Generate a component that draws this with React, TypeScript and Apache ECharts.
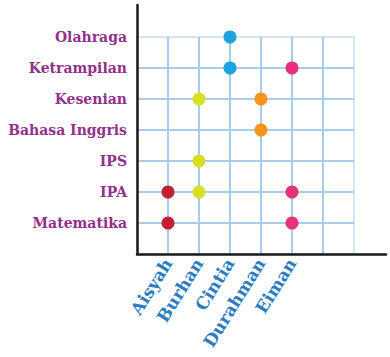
import React, { useEffect, useRef } from "react";
import * as echarts from "echarts";

const subjects = ["Matematika", "IPA", "IPS", "Bahasa Inggris", "Kesenian", "Ketrampilan", "Olahraga"];
const students = ["Aisyah", "Burhan", "Cintia", "Durahman", "Eiman"];
const studentColors = ["#c41f30", "#d8e024", "#1fa3e0", "#f7941d", "#e8317c"];
const aisyah = ["Matematika", "IPA"];
const burhan = ["IPA", "IPS", "Kesenian"];
const cintia = ["Ketrampilan", "Olahraga"];
const durahman = ["Bahasa Inggris", "Kesenian"];
const eiman = ["Matematika", "IPA", "Ketrampilan"];
const choices = [aisyah, burhan, cintia, durahman, eiman];

export default function App() {
  const ref = useRef<HTMLDivElement>(null);
  useEffect(() => {
    const chart = echarts.init(ref.current!, null, { renderer: "svg" });
    const font = "'DejaVu Serif', serif";
    chart.setOption({
      animation: false,
      grid: [
        { left: 137, top: 37, width: 217, height: 217, show: true, borderColor: "#d3e6f6", borderWidth: 2, backgroundColor: "transparent" },
        { left: 137, top: 5, right: 4, bottom: 103 },
      ],
      xAxis: [
        {
          type: "value", gridIndex: 0, min: 0, max: 7, interval: 1,
          axisLine: { show: false }, axisTick: { show: false },
          splitLine: { show: true, showMinLine: false, showMaxLine: false, lineStyle: { color: "#a8cdec", width: 2 } },
          axisLabel: {
            rotate: 58, margin: 6, color: "#2b7cc1", fontFamily: font, fontWeight: "bold", fontSize: 17,
            formatter: (v: number) => students[v - 1] ?? "",
          },
        },
        {
          type: "value", gridIndex: 1, min: 0, max: 1,
          axisLine: { show: true, lineStyle: { color: "#1a1a1a", width: 2.5 } },
          axisTick: { show: false }, axisLabel: { show: false }, splitLine: { show: false },
        },
      ],
      yAxis: [
        {
          type: "value", gridIndex: 0, min: 0, max: 7, interval: 1,
          axisLine: { show: false }, axisTick: { show: false },
          splitLine: { show: true, showMinLine: false, showMaxLine: false, lineStyle: { color: "#a8cdec", width: 2 } },
          axisLabel: {
            margin: 10, color: "#92318c", fontFamily: font, fontWeight: "bold", fontSize: 14,
            formatter: (v: number) => subjects[v - 1] ?? "",
          },
        },
        {
          type: "value", gridIndex: 1, min: 0, max: 1,
          axisLine: { show: true, lineStyle: { color: "#1a1a1a", width: 2.5 } },
          axisTick: { show: false }, axisLabel: { show: false }, splitLine: { show: false },
        },
      ],
      series: students.map((name, i) => ({
        name,
        type: "scatter",
        xAxisIndex: 0,
        yAxisIndex: 0,
        symbolSize: 13,
        itemStyle: { color: studentColors[i], opacity: 1 },
        data: choices[i].map((s) => [i + 1, subjects.indexOf(s) + 1]),
      })),
    });
    return () => chart.dispose();
  }, []);
  return <div ref={ref} style={{ width: 390, height: 357, position: "absolute", left: 0, top: 0 }} />;
}
